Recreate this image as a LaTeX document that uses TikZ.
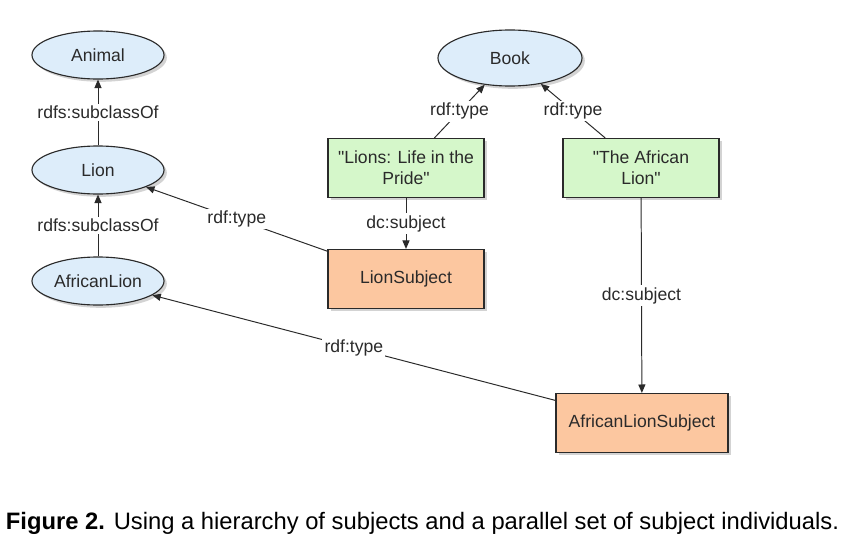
\documentclass[tikz,border=0pt]{standalone}
\usepackage{fontspec}
\setmainfont{Liberation Sans}[Ligatures=TeXOff]
\usepackage{tikz}
\usetikzlibrary{arrows.meta}
\usetikzlibrary{shapes.geometric}
\usetikzlibrary{shadows}

\definecolor{classblue}{HTML}{DDEDFA}
\definecolor{literalgreen}{HTML}{D5F7CA}
\definecolor{subjectorange}{HTML}{FCC7A0}
\definecolor{ink}{HTML}{2A2A2A}

\begin{document}
\begin{tikzpicture} [x=0.025cm, y=-0.025cm,
    every node/.style={font=\fontsize{12.5}{15}\selectfont, text=ink},
    shade/.style={drop shadow={shadow xshift=2pt, shadow yshift=-2pt, opacity=0.35}},
    classnode/.style={draw=ink, line width=0.8pt, ellipse, fill=classblue, inner sep=0pt, shade},
    literalnode/.style={draw=ink, line width=0.8pt, rectangle, fill=literalgreen, align=center, inner sep=0pt, minimum width=3.9cm, minimum height=1.475cm, shade},
    subjectnode/.style={draw=ink, line width=0.8pt, rectangle, fill=subjectorange, inner sep=0pt, minimum height=1.475cm, shade},
    edgelabel/.style={fill=white, inner sep=1.5pt}]
            \useasboundingbox (0,0) rectangle (850,546);

            \node[classnode, minimum width=3.3cm, minimum height=1.2cm] (animal) at (98, 55)   {Animal};
            \node[classnode, minimum width=3.3cm, minimum height=1.2cm] (lion) at (98, 170)    {Lion};
            \node[classnode, minimum width=3.3cm, minimum height=1.2cm] (alion) at (98, 281)   {AfricanLion};
            \node[classnode, minimum width=3.6cm, minimum height=1.4cm] (book) at (510, 58)    {Book};
            \node[literalnode] (pride) at (406, 168)   {"Lions: Life in the\\Pride"};
            \node[literalnode] (title) at (641, 168)   {"The African\\Lion"};
            \node[subjectnode, minimum width=3.9cm] (lsubj) at (406, 279)    {LionSubject};
            \node[subjectnode, minimum width=4.3cm] (alsubj) at (642, 423)   {AfricanLionSubject};

            \node[anchor=west, text=black, font=\fontsize{16.9}{20}\selectfont] (caption) at (1, 523)
                {\textbf{Figure 2.} Using a hierarchy of subjects and a parallel set of subject individuals.};

            \begin{scope}[->, >={Triangle[length=6pt, width=5pt]}, line width=0.7pt, ink]
                \draw (lion) -> node[edgelabel] {rdfs:subclassOf} (animal);
                \draw (alion) -> node[edgelabel] {rdfs:subclassOf} (lion);
                \draw (lsubj) -> node[edgelabel] {rdf:type} (lion);
                \draw (alsubj) -> node[edgelabel] {rdf:type} (alion);
                \draw (pride) -> node[edgelabel] {rdf:type} (book);
                \draw (title) -> node[edgelabel] {rdf:type} (book);
                \draw (pride) -> node[edgelabel] {dc:subject} (lsubj);
                \draw (title) -> node[edgelabel] {dc:subject} (alsubj);
            \end{scope}
        \end{tikzpicture}
\end{document}
